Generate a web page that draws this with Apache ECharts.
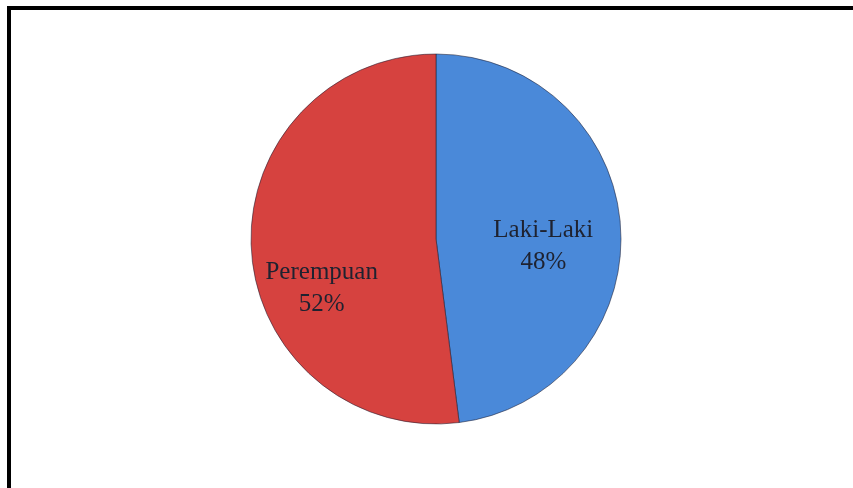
<!DOCTYPE html>
<html>
<head>
<meta charset="utf-8">
<script src="https://cdn.jsdelivr.net/npm/echarts@6/dist/echarts.min.js"></script>
<style>
html,body{margin:0;padding:0;background:#fff;}
#chart{width:853px;height:488px;}
</style>
</head>
<body>
<div id="chart"></div>
<script>
var categories = ['Laki-Laki', 'Perempuan'];
var values = [48, 52];

var colors = ['#4a89d9', '#d6423f'];
var labelOffsets = [[12, 13], [-19, 43]];

var chart = echarts.init(document.getElementById('chart'));
var data = categories.map(function (c, i) {
  return {
    name: c,
    value: values[i],
    itemStyle: {color: colors[i]},
    label: {offset: labelOffsets[i]}
  };
});
chart.setOption({
  animation: false,
  graphic: [{
    type: 'rect',
    shape: {x: 9, y: 8, width: 900, height: 500},
    style: {fill: 'none', stroke: '#000', lineWidth: 4},
    silent: true
  }],
  series: [{
    type: 'pie',
    center: [436, 239],
    radius: 185,
    startAngle: 90,
    clockwise: true,
    data: data,
    itemStyle: {borderColor: 'rgba(30,30,50,0.55)', borderWidth: 1},
    label: {
      show: true,
      position: 'inside',
      formatter: function (p) { return p.name + '\n' + Math.round(p.percent) + '%'; },
      fontFamily: 'Liberation Serif',
      fontSize: 25,
      lineHeight: 32,
      color: '#1e2230'
    },
    labelLine: {show: false}
  }]
});
</script>
</body>
</html>
